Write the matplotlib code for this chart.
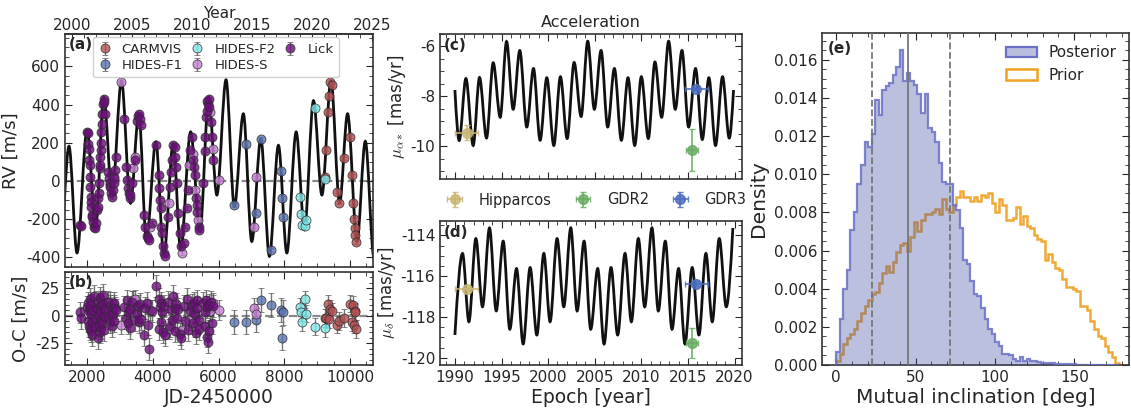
"""RV fit, proper-motion acceleration and mutual inclination panels."""
import numpy as np
import matplotlib

matplotlib.use("Agg")
import matplotlib.pyplot as plt  # noqa: E402
from matplotlib.path import Path  # noqa: E402
from matplotlib.patches import PathPatch, Patch  # noqa: E402
from matplotlib.ticker import MultipleLocator, FormatStrFormatter  # noqa: E402

# ---------------- data ----------------
# RV model curve: turning points (JD-2450000, m/s)
model_jd = [1190, 1451, 1695, 2000, 2265, 2509, 2762, 3048, 3323, 3576, 3807, 4094, 4338,
            4622, 4848, 5152, 5436, 5701, 5950, 6229, 6482, 6756, 7012, 7287, 7549, 7823,
            8079, 8363, 8616, 8890, 9146, 9421, 9683, 9927, 10213, 10466, 10730]
model_rv = [-330, 182, -376, 265, -238, 439, -73, 525, -116, 355, -310, 205, -390,
            196, -359, 257, -264, 439, -73, 530, -134, 352, -316, 222, -394, 187,
            -376, 257, -255, 421, -73, 525, -116, 352, -316, 208, -400]

lick_jd = [1798, 1805, 2001, 2021, 2032, 2052, 2062, 2082, 2086, 2103,
           2113, 2123, 2133, 2153, 2164, 2184, 2204, 2235, 2265, 2306,
           2326, 2336, 2357, 2367, 2387, 2390, 2408, 2418, 2428, 2438,
           2458, 2469, 2489, 2509, 2530, 2550, 2651, 2672, 2692, 2713,
           2743, 2763, 2794, 2814, 2824, 2845, 2895, 3119, 3200, 3230,
           3250, 3281, 3301, 3321, 3382, 3453, 3525, 3545, 3576, 3606,
           3627, 3728, 3769, 3830, 3860, 3891, 3962, 4094, 4175, 4195,
           4216, 4236, 4256, 4277, 4317, 4347, 4378, 4469, 4520, 4550,
           4581, 4622, 4662, 4682, 4703, 4723, 4774, 4825, 4855, 4946,
           4987, 5028, 5068, 5130, 5191, 5231, 5252, 5272, 5313, 5333,
           5353, 5394, 5414, 5536, 5597, 5600, 5618, 5638, 5658, 5679,
           5699, 5719, 5770, 5790, 5823]
lick_rv = [-229, -236, 257, 251, 196, 170, 109, 83, 23, -29,
           -82, -108, -134, -177, -186, -212, -238, -246, -220, -151,
           -134, -90, -64, -12, 66, 83, 127, 161, 199, 257,
           300, 352, 404, 430, 413, 352, 49, 14, -12, -29,
           -64, -82, -47, -12, 23, 57, 127, 326, 75, 5,
           -38, -64, -90, -73, -12, 109, 317, 343, 352, 326,
           291, -177, -238, -290, -298, -307, -220, 187, 31, -38,
           -99, -142, -238, -272, -342, -376, -390, -186, -29, 49,
           109, 187, 179, 127, 75, -12, -168, -272, -342, -324,
           -238, -142, -47, 161, 231, 109, 75, 31, -90, -125,
           -160, -238, -255, -12, 160, 231, 335, 369, 421, 404,
           430, 387, 309, 231, 109]
lick_oc = [3, -2, 8, -5, 12, 4, -9, 15, -12, 6,
           -14, 2, 10, -6, -18, 5, 18, -10, -3, 7,
           -20, 13, -8, 1, -15, 9, 16, -4, 3, -11,
           11, -7, 19, 0, -13, 6, 13, -2, 9, -6,
           4, -9, 2, 12, -5, 7, 5, 8, -2, 14,
           -7, 3, -11, 6, 13, -4, 2, 9, -6, 11,
           -3, -18, 7, 12, -8, -30, 4, 27, 15, -12,
           8, 12, -6, 3, -15, 9, -18, 13, -9, 5,
           -4, 18, 7, -14, 11, -2, 6, -17, -20, 9,
           -5, 15, -13, 4, 10, -7, 12, 2, -16, 14,
           7, -4, -12, 12, -9, 3, 14, -19, 8, -24,
           10, -14, 13, -7, 9]

hides_s_jd = [2690, 2815, 3038, 3403, 3454, 3931, 4500, 4896, 5089, 5211, 5292, 5374,
              5740, 5821, 6000, 7090, 7150]
hides_s_rv = [-21, 10, 517, 66, 127, -238, -113, -376, 83, 144, -47, -203,
              361, 170, 8, -238, 19]
hides_s_oc = [13, 10, -8, 14, 15, 5, -12, -13, -4, 8, -10, -8, 4, 12, 5, 7, 2]

hides_f1_jd = [6483, 6828, 7144, 7286, 7601, 7896, 7926, 7957]
hides_f1_rv = [-125, 196, -168, 222, -359, 54, -90, -186]
hides_f1_oc = [-6, -6, -4, 14, 10, 5, -20, 3]

hides_f2_jd = [8485, 8515, 8546, 8617, 8668, 8922, 9227]
hides_f2_rv = [-85, -173, -229, -234, -206, 383, 10]
hides_f2_oc = [8, 3, -6, 15, 2, -10, -11]

carmvis_jd = [9247, 9278, 9318, 9349, 9379, 9461, 9613, 9654, 9806, 10009, 10050,
              10090, 10111, 10141, 10162, 10182]
carmvis_rv = [23, 165, 364, 447, 517, 501, -55, -113, 120, 231, 31,
              -113, -199, -248, -281, -319]
carmvis_oc = [-2, -2, 11, -3, 6, 4, -8, -5, -2, 11, -6, 10, -8, 4, 3, -12]

rv_err = {"CARMVIS": 8, "HIDES-F1": 11, "HIDES-F2": 8, "HIDES-S": 9, "Lick": 10}

# proper-motion model turning points (epoch, mas/yr)
pmra_t = [1990.00, 1990.46, 1991.18, 1991.96, 1992.64, 1993.39, 1994.11, 1994.86, 1995.54,
          1996.25, 1996.96, 1997.71, 1998.43, 1999.14, 1999.86, 2000.61, 2001.32, 2002.04,
          2002.79, 2003.54, 2004.25, 2004.96, 2005.68, 2006.39, 2007.11, 2007.86, 2008.57,
          2009.29, 2010.00, 2010.75, 2011.46, 2012.18, 2012.93, 2013.64, 2014.36, 2015.07,
          2015.82, 2016.54, 2017.25, 2017.96, 2018.71, 2019.43, 2019.89]
pmra_v = [-7.74, -9.76, -7.28, -9.96, -7.24, -9.66, -6.65, -8.83, -5.80, -8.51, -6.16,
          -9.22, -6.88, -9.75, -7.25, -9.96, -7.21, -9.68, -6.64, -8.80, -5.79, -8.51,
          -6.16, -9.22, -6.88, -9.75, -7.25, -9.96, -7.21, -9.68, -6.62, -8.83, -5.79,
          -8.51, -6.16, -9.22, -6.88, -9.72, -7.25, -9.96, -7.21, -9.66, -7.74]
pmdec_t = [1990.00, 1990.82, 1991.50, 1992.25, 1992.96, 1993.71, 1994.43, 1995.18, 1995.89,
           1996.61, 1997.32, 1998.07, 1998.79, 1999.54, 2000.21, 2000.96, 2001.68, 2002.43,
           2003.11, 2003.86, 2004.57, 2005.32, 2006.00, 2006.75, 2007.46, 2008.25, 2008.93,
           2009.68, 2010.36, 2011.14, 2011.82, 2012.57, 2013.29, 2014.00, 2014.68, 2015.46,
           2016.18, 2016.93, 2017.61, 2018.36, 2019.11, 2019.82]
pmdec_v = [-118.88, -114.89, -118.23, -114.16, -117.50, -113.64, -117.70, -114.29, -118.60,
           -115.63, -119.32, -115.58, -118.88, -114.89, -118.23, -114.16, -117.50, -113.64,
           -117.70, -114.29, -118.60, -115.63, -119.32, -115.58, -118.88, -114.89, -118.23,
           -114.16, -117.50, -113.64, -117.70, -114.29, -118.60, -115.63, -119.32, -115.58,
           -118.88, -114.89, -118.23, -114.16, -117.50, -113.64]

astro_names = ["Hipparcos", "GDR2", "GDR3"]
astro_epoch = [1991.25, 2015.43, 2015.9]
astro_epoch_err = [1.2, 0.68, 1.25]
astro_pmra = [-9.46, -10.15, -7.70]
astro_pmra_err = [0.3, 0.85, 0.05]
astro_pmdec = [-116.65, -119.28, -116.36]
astro_pmdec_err = [0.05, 0.75, 0.1]

# mutual inclination histograms (density per bin)
inc_edges = np.linspace(0, 178, 81)
posterior = [0.0007, 0.0024, 0.0040, 0.0050, 0.0071, 0.0080, 0.0095, 0.0105, 0.0117, 0.0114,
             0.0121, 0.0139, 0.0131, 0.0144, 0.0146, 0.0148, 0.0152, 0.0156, 0.0165, 0.0149,
             0.0153, 0.0149, 0.0147, 0.0142, 0.0132, 0.0142, 0.0124, 0.0122, 0.0117, 0.0106,
             0.0096, 0.0095, 0.0095, 0.0084, 0.0081, 0.0072, 0.0055, 0.0053, 0.0044, 0.0037,
             0.0036, 0.0030, 0.0024, 0.0019, 0.0016, 0.0012, 0.0010, 0.0006, 0.0006, 0.0005,
             0.0003, 0.0002, 0.0004, 0.0002, 0.0003, 0.0002, 0.0002, 0.00015, 0.0001, 0.00012,
             0.00008, 0.0001, 0.00006, 0.00005, 0.00006, 0.00004, 0.00003, 0.00003, 0.00002, 0.00002,
             0.00002, 0.00001, 0.00001, 0.00001, 0.00001, 0.00001, 0.0, 0.0, 0.0, 0.0]
prior = [0.0002, 0.0006, 0.0011, 0.0014, 0.0016, 0.0019, 0.0023, 0.0027, 0.0031, 0.0034,
         0.0037, 0.0038, 0.0043, 0.0048, 0.0052, 0.0049, 0.0054, 0.0059, 0.0063, 0.0064,
         0.0060, 0.0067, 0.0075, 0.0070, 0.0076, 0.0079, 0.0079, 0.0080, 0.0082, 0.0079,
         0.0087, 0.0082, 0.0080, 0.0084, 0.0088, 0.0091, 0.0088, 0.0088, 0.0086, 0.0088,
         0.0086, 0.0089, 0.0088, 0.0090, 0.0085, 0.0080, 0.0087, 0.0084, 0.0076, 0.0076,
         0.0077, 0.0083, 0.0074, 0.0078, 0.0073, 0.0072, 0.0068, 0.0066, 0.0065, 0.0055,
         0.0058, 0.0054, 0.0051, 0.0050, 0.0045, 0.0041, 0.0041, 0.0040, 0.0039, 0.0031,
         0.0031, 0.0029, 0.0023, 0.0019, 0.0015, 0.0014, 0.0010, 0.0007, 0.0004, 0.0001]
inc_lines = [22.2, 45.0, 71.6]  # 16th, 50th, 84th percentiles

# ---------------- style ----------------
TXT = "#262626"
plt.rcParams.update({
    "font.family": ["DejaVu Sans"],
    "mathtext.fontset": "cm",
    "axes.unicode_minus": False,
    "font.size": 11,
    "text.color": TXT, "axes.labelcolor": TXT,
    "xtick.color": TXT, "ytick.color": TXT, "axes.edgecolor": "#333333",
    "axes.linewidth": 1.2,
    "xtick.direction": "in", "ytick.direction": "in",
    "xtick.top": True, "ytick.right": True,
    "xtick.major.size": 5, "ytick.major.size": 5,
    "xtick.minor.size": 3, "ytick.minor.size": 3,
    "xtick.minor.visible": True, "ytick.minor.visible": True,
    "xtick.labelsize": 11, "ytick.labelsize": 11,
})

inst_colors = {"CARMVIS": "#b04e50", "HIDES-F1": "#5a73b0", "HIDES-F2": "#7fe6e6",
               "HIDES-S": "#c77fd6", "Lick": "#6b0f7a"}
astro_colors = ["#c9b673", "#6aab64", "#4c6cc0"]


def smooth_curve(x, y, open_ends=False):
    """Bezier path through turning points with flat tangents."""
    verts = [(x[0], y[0])]
    codes = [Path.MOVETO]
    n = len(x)
    for i in range(1, n):
        dx = (x[i] - x[i - 1]) / 3.0
        dy = y[i] - y[i - 1]
        c1y = y[i - 1] + 0.52 * dy if (open_ends and i == 1) else y[i - 1]
        c2y = y[i] - 0.52 * dy if (open_ends and i == n - 1) else y[i]
        verts += [(x[i - 1] + dx, c1y), (x[i] - dx, c2y), (x[i], y[i])]
        codes += [Path.CURVE4] * 3
    return PathPatch(Path(verts, codes), fill=False, lw=2, ec="#111111", zorder=2)


W, H = 1131, 412
fig = plt.figure(figsize=(W / 100, H / 100), dpi=100)


def box(l, t, r, b):
    return [l / W, 1 - b / H, (r - l) / W, (b - t) / H]


ax_a = fig.add_axes(box(65, 34, 373, 267))
ax_b = fig.add_axes(box(65, 272, 373, 365), sharex=ax_a)
ax_c = fig.add_axes(box(440, 34, 742, 179))
ax_d = fig.add_axes(box(440, 221, 742, 365), sharex=ax_c)
ax_e = fig.add_axes(box(822, 33, 1129, 365))

# ---------------- (a) RV ----------------
ax_a.add_patch(smooth_curve(model_jd, model_rv))
ax_a.axhline(0, color="#8a8a8a", ls="--", lw=1.6, zorder=1)
datasets = [("CARMVIS", carmvis_jd, carmvis_rv, carmvis_oc),
            ("HIDES-F1", hides_f1_jd, hides_f1_rv, hides_f1_oc),
            ("HIDES-F2", hides_f2_jd, hides_f2_rv, hides_f2_oc),
            ("HIDES-S", hides_s_jd, hides_s_rv, hides_s_oc),
            ("Lick", lick_jd, lick_rv, lick_oc)]
for name, jd, rv, oc in datasets:
    kw = dict(fmt="o", ms=6.5, mfc=inst_colors[name], mec="#2a2a2a", mew=0.6,
              ecolor="#555555", elinewidth=1, capsize=2.5, alpha=0.8, zorder=3)
    ax_a.errorbar(jd, rv, yerr=rv_err[name], label=name, **kw)
    ax_b.errorbar(jd, oc, yerr=rv_err[name], **kw)

ax_a.set_xlim(1330, 10700)
ax_a.set_ylim(-450, 770)
ax_a.set_ylabel("RV [m/s]", fontsize=13)
ax_a.yaxis.set_major_locator(MultipleLocator(200))
ax_a.yaxis.set_minor_locator(MultipleLocator(50))
ax_a.tick_params(labelbottom=False, top=False)
ax_a.tick_params(which="minor", top=False)
ax_a.text(0.012, 0.985, "(a)", transform=ax_a.transAxes, fontsize=11, weight="bold", va="top")
ax_a.legend(loc="upper left", bbox_to_anchor=(0.09, 0.985), ncol=3, fontsize=9.5,
            columnspacing=0.6, handlelength=1.0, handletextpad=0.8, borderaxespad=0,
            labelspacing=0.25, framealpha=0.9, edgecolor="#cccccc")

sec = ax_a.secondary_xaxis("top", functions=(lambda jd: 2000 + (jd - 1545) / 365.25,
                                               lambda yr: 1545 + (yr - 2000) * 365.25))
sec.set_xticks([2000, 2005, 2010, 2015, 2020, 2025])
sec.xaxis.set_minor_locator(MultipleLocator(1))
sec.tick_params(direction="in", pad=1)
sec.set_xlabel("Year", fontsize=11, labelpad=0)

ax_b.axhline(0, color="#8a8a8a", ls="--", lw=1.6, zorder=1)
ax_b.set_ylim(-45, 40)
ax_b.set_yticks([-25, 0, 25])
ax_b.yaxis.set_minor_locator(MultipleLocator(5))
ax_b.xaxis.set_major_locator(MultipleLocator(2000))
ax_b.xaxis.set_minor_locator(MultipleLocator(500))
ax_b.set_xlabel("JD-2450000", fontsize=13.5, labelpad=2)
ax_b.set_ylabel("O-C [m/s]", fontsize=13)
ax_b.text(0.012, 0.97, "(b)", transform=ax_b.transAxes, fontsize=11, weight="bold", va="top")

# ---------------- (c)/(d) proper motions ----------------
ax_c.add_patch(smooth_curve(pmra_t, pmra_v, open_ends=True))
ax_d.add_patch(smooth_curve(pmdec_t, pmdec_v, open_ends=True))
handles = []
for i, name in enumerate(astro_names):
    kw = dict(fmt="o", ms=7, color=astro_colors[i], elinewidth=1.3, capsize=2.5,
              alpha=0.85, zorder=4)
    h = ax_c.errorbar(astro_epoch[i], astro_pmra[i], xerr=astro_epoch_err[i],
                      yerr=astro_pmra_err[i], label=name, **kw)
    ax_d.errorbar(astro_epoch[i], astro_pmdec[i], xerr=astro_epoch_err[i],
                  yerr=astro_pmdec_err[i], **kw)
    handles.append(h)

ax_c.set_xlim(1988.4, 2020.8)
ax_c.set_ylim(-11.3, -5.5)
ax_c.set_yticks([-10, -8, -6])
ax_c.yaxis.set_minor_locator(MultipleLocator(0.5))
ax_c.xaxis.set_major_locator(MultipleLocator(5))
ax_c.xaxis.set_minor_locator(MultipleLocator(1))
ax_c.tick_params(labelbottom=False)
ax_c.set_ylabel(r"$\mu_{\alpha*}$ [mas/yr]", fontsize=12, labelpad=2)
ax_c.set_title("Acceleration", fontsize=11.5, pad=5)
ax_c.text(0.012, 0.97, "(c)", transform=ax_c.transAxes, fontsize=11, weight="bold", va="top")

ax_d.set_ylim(-120.35, -113.3)
ax_d.set_yticks([-120, -118, -116, -114])
ax_d.yaxis.set_minor_locator(MultipleLocator(0.5))
ax_d.set_xlabel("Epoch [year]", fontsize=13.5, labelpad=2)
ax_d.set_ylabel(r"$\mu_{\delta}$ [mas/yr]", fontsize=12, labelpad=2)
ax_d.text(0.012, 0.97, "(d)", transform=ax_d.transAxes, fontsize=11, weight="bold", va="top")

fig.legend(handles=handles, loc="center", bbox_to_anchor=(595 / W, 1 - 200 / H), ncol=3,
           frameon=False, fontsize=10.5, columnspacing=1.4, handlelength=1.5,
           handletextpad=0.9)

# ---------------- (e) mutual inclination ----------------
post_color = "#6b70c6"
ax_e.stairs(prior, inc_edges, color="#f0a020", lw=1.8, alpha=0.9, zorder=2)
ax_e.stairs(posterior, inc_edges, fill=True, color="#3a4ba0", alpha=0.35, lw=0, zorder=3)
ax_e.stairs(posterior, inc_edges, color=post_color, lw=1.6, alpha=0.85, zorder=3)
for v, ls in zip(inc_lines, ["--", "-", "--"]):
    ax_e.axvline(v, color="#777777", ls=ls, lw=1.3, zorder=4)
ax_e.set_xlim(-9, 184.5)
ax_e.set_ylim(0, 0.0174)
ax_e.xaxis.set_major_locator(MultipleLocator(50))
ax_e.xaxis.set_minor_locator(MultipleLocator(10))
ax_e.yaxis.set_major_locator(MultipleLocator(0.002))
ax_e.yaxis.set_minor_locator(MultipleLocator(0.0005))
ax_e.yaxis.set_major_formatter(FormatStrFormatter("%.3f"))
ax_e.set_xlabel("Mutual inclination [deg]", fontsize=14.5, labelpad=2)
ax_e.set_ylabel("Density", fontsize=14.5)
ax_e.text(0.02, 0.975, "(e)", transform=ax_e.transAxes, fontsize=11, weight="bold", va="top")
leg_handles = [Patch(facecolor=(0.23, 0.29, 0.63, 0.35), edgecolor=post_color, lw=1.6, label="Posterior"),
               Patch(facecolor="none", edgecolor="#f0a020", lw=1.8, label="Prior")]
ax_e.legend(handles=leg_handles, loc="upper right", frameon=False, fontsize=11,
            borderaxespad=0.4, handlelength=2.0)

fig.savefig("out.png", dpi=100)
plt.close(fig)
